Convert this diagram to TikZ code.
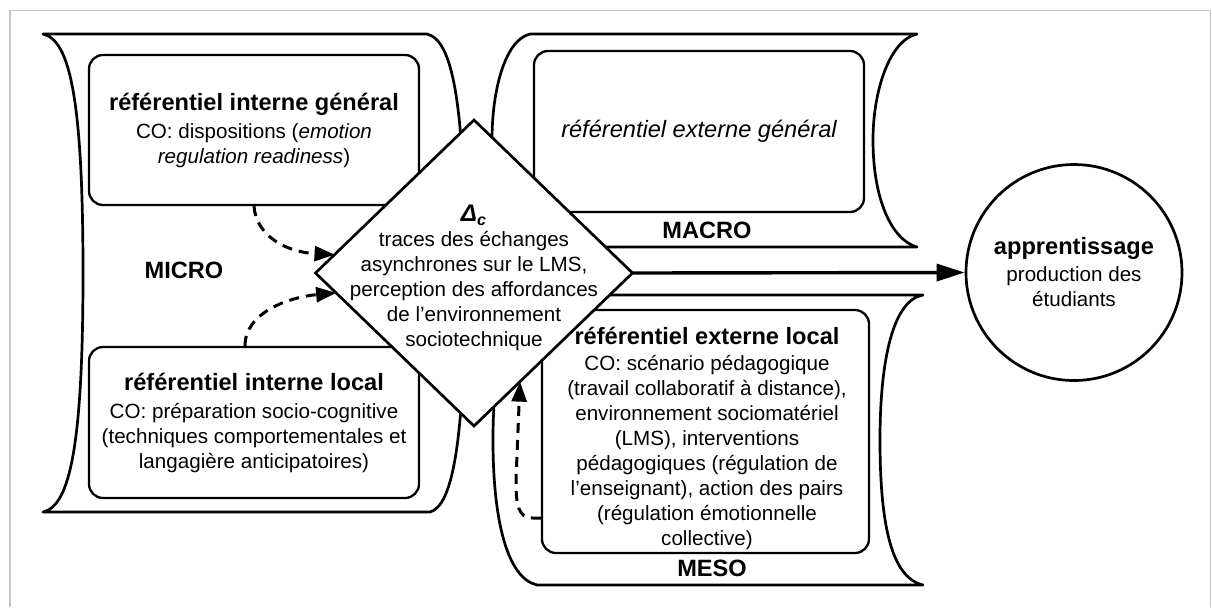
\documentclass[tikz,border=0pt]{standalone}
\usepackage{fontspec}
\setmainfont{Liberation Sans}
\usetikzlibrary{shapes.geometric,arrows.meta,calc}
\newcommand\reftitle{\fontsize{11.8}{14}\selectfont\bfseries}
\begin{document}
\begin{tikzpicture}[x=0.5pt,y=-0.5pt,
  outline/.style={line width=1.35pt, line join=round},
  refbox/.style={draw, line width=1.15pt, rounded corners=7pt, inner sep=0pt, align=center,
    font=\fontsize{10.3}{12.5}\selectfont},
  bodytext/.style={align=center, inner sep=0pt, font=\fontsize{10.3}{12.5}\selectfont},
  lvl/.style={font=\fontsize{11.8}{14}\selectfont\bfseries, inner sep=0pt},
  dasharrow/.style={line width=1.5pt, dash pattern=on 5pt off 3.5pt,
    -{Triangle[length=10pt,width=7.5pt]}},
  mainarrow/.style={line width=1.7pt, -{Triangle[length=14pt,width=8.5pt]}}
]
\useasboundingbox (0,0) rectangle (1212,607);
% frame
\draw[gray!45, line width=0.6pt] (10,607) -- (10,10.5) -- (1210.5,10.5) -- (1210.5,607);

% MICRO outline
\draw[outline] (43,34) -- (427,34) .. controls (452,40) and (465,100) .. (465,273)
  .. controls (465,445) and (452,506) .. (430,512) -- (43,512)
  .. controls (70,506) and (83,445) .. (83,273)
  .. controls (83,100) and (70,40) .. (43,34) -- cycle;
% MACRO outline
\draw[outline] (530,34) -- (917,34) .. controls (890,40) and (873,90) .. (873,140)
  .. controls (873,200) and (892,240) .. (917,247) -- (530,247)
  .. controls (505,240) and (492,200) .. (492,140)
  .. controls (492,90) and (505,40) .. (530,34) -- cycle;
% MESO outline
\draw[outline] (537,295) -- (923,295) .. controls (893,300) and (880,360) .. (880,440)
  .. controls (880,530) and (893,578) .. (923,585) -- (537,585)
  .. controls (507,578) and (493,520) .. (493,440)
  .. controls (493,360) and (507,300) .. (537,295) -- cycle;

\node[lvl] (microlbl) at (184,270) {MICRO};
\node[lvl] (macrolbl) at (707,230) {MACRO};
\node[lvl] (mesolbl) at (712,568) {MESO};

\node[refbox, minimum width=165pt, minimum height=75pt] (RIG) at (254,130)
  {{\reftitle référentiel interne général}\\[1.5pt]
   CO: dispositions (\textit{emotion}\\
   \textit{regulation readiness})};
\node[refbox, minimum width=165pt, minimum height=75.5pt] (RIL) at (254,422.5)
  {{\reftitle référentiel interne local}\\[1.5pt]
   CO: préparation socio-cognitive\\
   (techniques comportementales et\\
   langagière anticipatoires)};
\node[refbox, minimum width=165pt, minimum height=80.5pt] (REG) at (699,131.5)
  {{\fontsize{11.8}{14}\selectfont\itshape référentiel externe général}};
\node[refbox, minimum width=163.5pt, minimum height=121.5pt] (REL) at (705.5,431.5) {};
\node[bodytext] (RELtxt) at (707,438)
  {{\reftitle référentiel externe local}\\[0.5pt]
   CO: scénario pédagogique\\
   (travail collaboratif à distance),\\
   environnement sociomatériel\\
   (LMS), interventions\\
   pédagogiques (régulation de\\
   l'enseignant), action des pairs\\
   (régulation émotionnelle\\
   collective)};

% diamond
\node[draw, diamond, line width=1.35pt, fill=white, minimum width=158.5pt,
  minimum height=153pt, inner sep=0pt, outer sep=0pt] (D) at (474,273) {};
\node[bodytext] (Dtxt) at (474,278)
  {{\fontsize{12}{12.5}\selectfont\bfseries\itshape Δ\textsubscript{c}}\\
   traces des échanges\\
   asynchrones sur le LMS,\\
   perception des affordances\\
   de l'environnement\\
   sociotechnique};

% circle
\node[draw, circle, line width=1.35pt, minimum size=108pt, inner sep=0pt, align=center,
  font=\fontsize{10.3}{12.5}\selectfont] (C) at (1074,272.5)
  {{\reftitle apprentissage}\\[1pt]
   production des\\
   étudiants};

% connectors
\draw[dasharrow] (RIG.south) .. controls (256,235) and (285,252) .. ($(D.west)!0.12!(D.north)$);
\draw[dasharrow] ($(RIL.north)+(-9,0)$) .. controls (245,312) and (290,297) .. ($(D.west)!0.13!(D.south)$);
\draw[dasharrow] ($(REL.west)+(0,86.5)$) -- ++(-8,0) .. controls (518,518) and (516,505) .. (516,480)
  -- ($(D.south)!0.29!(D.east)$);
\draw[mainarrow] (D.east) -- (C.west);
\end{tikzpicture}
\end{document}
